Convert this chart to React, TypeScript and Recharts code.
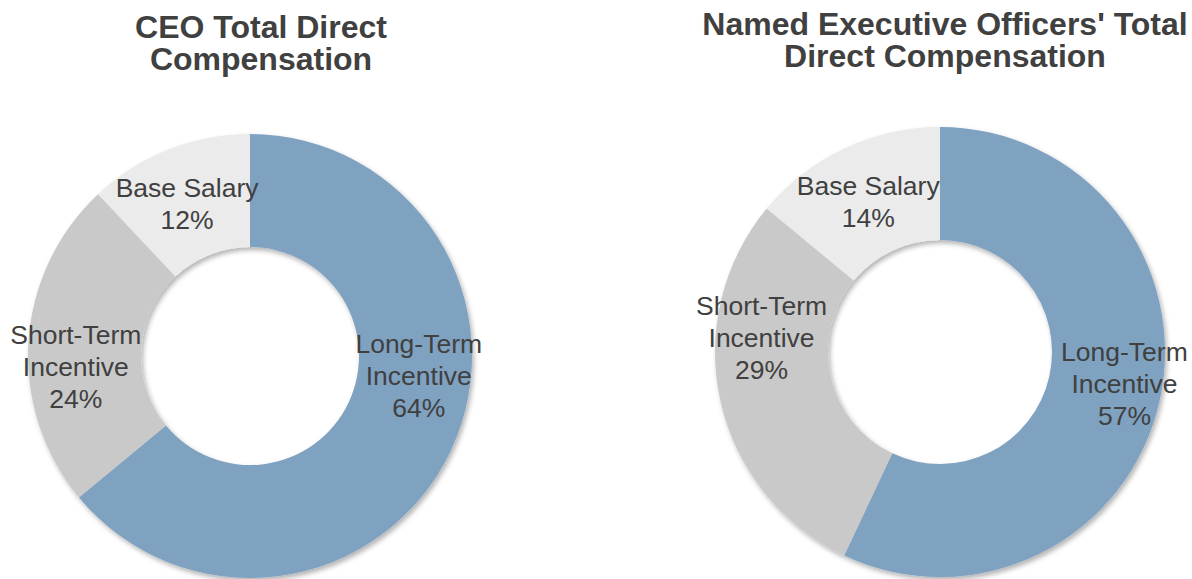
import { PieChart, Pie, Cell } from "recharts"

const categories = ["Long-Term\nIncentive", "Short-Term\nIncentive", "Base Salary"]
const ceoShares = [64, 24, 12]
const neoShares = [57, 29, 14]

const ceoTitle = ["CEO Total Direct", "Compensation"]
const neoTitle = ["Named Executive Officers' Total", "Direct Compensation"]

const sliceColors = ["#7fa2c1", "#c9c9c9", "#ebebeb"]
const textColor = "#404040"

// nudges that mimic Excel's best-fit label placement
const ceoLabelShift = [[19, -51], [-9, 21], [-2, 1]]
const neoLabelShift = [[20, -5], [-14, -51], [0, 2]]

const RAD = Math.PI / 180
const FONT = "'Liberation Sans', Arial, sans-serif"

function makeLabel(shift: number[][]) {
  return (props: any) => {
    const { cx, cy, midAngle, innerRadius, outerRadius, index, value } = props
    const r = (innerRadius + outerRadius) / 2
    const x = cx + r * Math.cos(-midAngle * RAD) + shift[index][0]
    const y = cy + r * Math.sin(-midAngle * RAD) + shift[index][1]
    const lines = [...categories[index].split("\n"), `${value}%`]
    const step = 32
    const top = y - ((lines.length - 1) * step) / 2
    return (
      <text x={x} y={top} textAnchor="middle" fill={textColor} fontSize={26.5} fontFamily={FONT}>
        {lines.map((l, i) => (
          <tspan key={i} x={x} y={top + i * step + 9.5}>{l}</tspan>
        ))}
      </text>
    )
  }
}

interface DonutProps {
  title: string[]
  shares: number[]
  shift: number[][]
  left: number
  width: number
  cy: number
  inner: number
  outer: number
  titleCenter: number
  titleTop: number
}

function Donut({ title, shares, shift, left, width, cy, inner, outer, titleCenter, titleTop }: DonutProps) {
  const data = categories.map((name, i) => ({ name, value: shares[i] }))
  return (
    <>
      <div style={{
        position: "absolute", left: titleCenter - 300, top: titleTop, width: 600, textAlign: "center",
        fontFamily: FONT, fontWeight: "bold", fontSize: 32, lineHeight: "32px", color: textColor,
      }}>
        {title.map((t, i) => <div key={i}>{t}</div>)}
      </div>
      <div style={{ position: "absolute", left, top: 0 }}>
        <PieChart width={width} height={579} margin={{ top: 0, right: 0, bottom: 0, left: 0 }}>
          <Pie
            data={data}
            dataKey="value"
            nameKey="name"
            cx={width / 2}
            cy={cy}
            innerRadius={inner}
            outerRadius={outer}
            startAngle={90}
            endAngle={-270}
            stroke="none"
            labelLine={false}
            label={makeLabel(shift)}
            isAnimationActive={false}
          >
            {data.map((_, i) => <Cell key={i} fill={sliceColors[i]} />)}
          </Pie>
        </PieChart>
      </div>
    </>
  )
}

export default function App() {
  return (
    <div style={{ position: "absolute", left: 0, top: 0, width: 1192, height: 579, overflow: "hidden", background: "#fff" }}>
      <svg width={0} height={0} style={{ position: "absolute" }}>
        <defs>
          <filter id="ringShadow" x="-10%" y="-10%" width="130%" height="130%">
            <feDropShadow dx="2" dy="3" stdDeviation="2.5" floodColor="#000" floodOpacity="0.3" />
          </filter>
        </defs>
      </svg>
      <style>{`.recharts-pie-sectors, .recharts-pie > g:first-child { filter: url(#ringShadow); }`}</style>
      <Donut title={ceoTitle} shares={ceoShares} shift={ceoLabelShift} left={0} width={500}
        cy={356} inner={109} outer={222} titleCenter={261} titleTop={11} />
      <Donut title={neoTitle} shares={neoShares} shift={neoLabelShift} left={690} width={500}
        cy={352} inner={112} outer={225} titleCenter={945} titleTop={8} />
    </div>
  )
}
